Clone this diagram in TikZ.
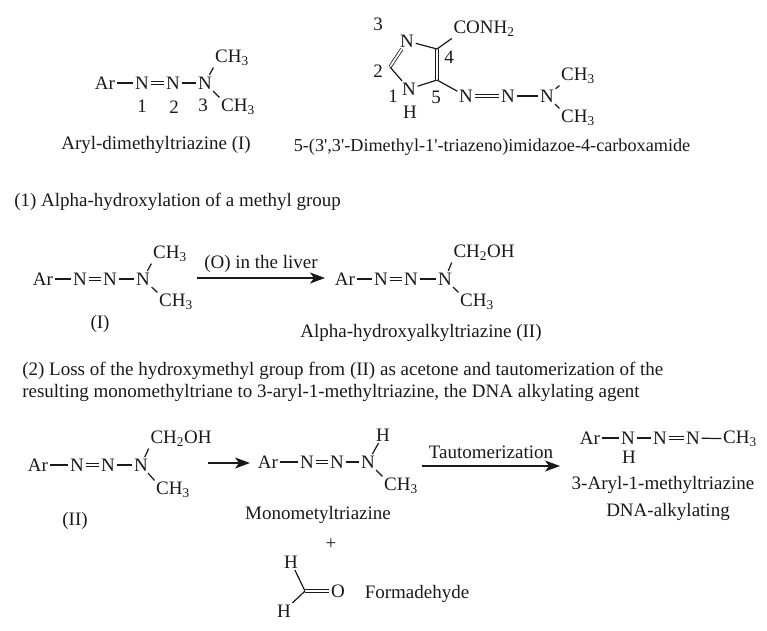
\documentclass[tikz,border=0pt]{standalone}
\usepackage{fontspec}
\setmainfont{Liberation Serif}
\usetikzlibrary{arrows,arrows.meta,positioning,calc}

\begin{document}
\begin{tikzpicture}[x=1pt,y=-1pt,
semithick,
every node/.style={font=\fontsize{19}{22}\selectfont,text=black!90}]
\tikzstyle{atom}=[inner sep=1.5pt]
\tikzstyle{bond}=[-,line width=1.2pt,black!90]
\tikzstyle{dbond}=[-,line width=0.8pt,black!90,double,double distance=1.8pt]
\tikzstyle{caption}=[inner sep=0pt]
\tikzstyle{para}=[inner sep=0pt,anchor=west]
\tikzstyle{reaction}=[-{Stealth[length=15pt,width=11pt,inset=4pt]},line width=1.3pt,black!90]
\useasboundingbox (0,0) rectangle (767,630);

%aryl compound
\node[atom] (ArA) at (105,83) {Ar};
\node[atom] (NA1) at (142,83) {N};
\node[atom] (NA2) at (173,83) {N};
\node[atom] (NA3) at (205,83) {N};
\node[atom] (MeA1) at (232,58) {CH\textsubscript{3}};
\node[atom] (MeA2) at (238,107) {CH\textsubscript{3}};
\node[atom] (numA1) at (142,106) {1};
\node[atom] (numA2) at (174,107) {2};
\node[atom] (numA3) at (203,105) {3};
\draw[bond] (ArA) -- (NA1);
\draw[dbond] (NA1) -- (NA2);
\draw[bond] (NA2) -- (NA3);
\draw[bond] (NA3) -- (MeA1.south west);
\draw[bond] (NA3) -- (MeA2.north west);
\node[caption] (capA) at (156,145) {Aryl-dimethyltriazine (I)};

%imidazole
\node[atom] (numB3) at (378,24) {3};
\node[atom] (NB3) at (407,41) {N};
\coordinate (CB4) at (437,49);
\coordinate (CB5) at (437,80);
\coordinate (CB2) at (390,67);
\node[atom] (NB1) at (409,89) {N};
\node[atom] (HB1) at (410,112) {H};
\node[atom] (numB2) at (378,71) {2};
\node[atom] (numB1) at (393,96) {1};
\node[atom] (numB4) at (449,57) {4};
\node[atom] (numB5) at (436,97) {5};
\node[atom] (Amide) at (484,29) {CONH\textsubscript{2}};
\node[atom] (NB6) at (466,96) {N};
\node[atom] (NB7) at (508,96) {N};
\node[atom] (NB8) at (547,96) {N};
\node[atom] (MeB1) at (578,76) {CH\textsubscript{3}};
\node[atom] (MeB2) at (578,118) {CH\textsubscript{3}};
\draw[dbond] (NB3) -- (CB2);
\draw[bond] (CB2) -- (NB1);
\draw[bond] (NB1) -- (CB5);
\draw[dbond] (CB5) -- (CB4);
\draw[bond] (CB4) -- (NB3);
\draw[bond] (CB4) -- (Amide.south west);
\draw[bond] (CB5) -- (NB6);
\draw[dbond] (NB6) -- (NB7);
\draw[bond] (NB7) -- (NB8);
\draw[bond] (NB8) -- (MeB1.south west);
\draw[bond] (NB8) -- (MeB2.north west);
\node[caption,font=\fontsize{18.2}{22}\selectfont] (capB) at (492,147) {5-(3\textquotesingle,3\textquotesingle-Dimethyl-1\textquotesingle-triazeno)imidazoe-4-carboxamide};

\node[para] (stepC) at (14,202) {(1) Alpha-hydroxylation of a methyl group};

%first reaction
\node[atom] (ArC) at (43,279) {Ar};
\node[atom] (NC1) at (80,279) {N};
\node[atom] (NC2) at (110,279) {N};
\node[atom] (NC3) at (143,279) {N};
\node[atom] (MeC1) at (170,254) {CH\textsubscript{3}};
\node[atom] (MeC2) at (176,302) {CH\textsubscript{3}};
\node[atom] (refC) at (100,324) {(I)};
\draw[bond] (ArC) -- (NC1);
\draw[dbond] (NC1) -- (NC2);
\draw[bond] (NC2) -- (NC3);
\draw[bond] (NC3) -- (MeC1.south west);
\draw[bond] (NC3) -- (MeC2.north west);

\node[atom] (ArD) at (345,279) {Ar};
\node[atom] (ND1) at (381,279) {N};
\node[atom] (ND2) at (411,279) {N};
\node[atom] (ND3) at (445,279) {N};
\node[atom] (HydD) at (484,253) {CH\textsubscript{2}OH};
\node[atom] (MeD) at (477,302) {CH\textsubscript{3}};
\draw[bond] (ArD) -- (ND1);
\draw[dbond] (ND1) -- (ND2);
\draw[bond] (ND2) -- (ND3);
\draw[bond] (ND3) -- (HydD.south west);
\draw[bond] (ND3) -- (MeD.north west);
\node[caption] (capD) at (421,333) {Alpha-hydroxyalkyltriazine (II)};

\coordinate (fromC) at (197,278);
\coordinate (toC) at (325,278);
\draw[reaction] (fromC) -- node[above=4pt,inner sep=1pt] {(O) in the liver} (toC);

\node[para] (stepE1) at (22,371) {(2) Loss of the hydroxymethyl group from (II) as acetone and tautomerization of the};
\node[para] (stepE2) at (22,393) {resulting monomethyltriane to 3-aryl-1-methyltriazine, the DNA alkylating agent};

%second reaction
\node[atom] (ArF) at (38,465) {Ar};
\node[atom] (NF1) at (77,465) {N};
\node[atom] (NF2) at (108,465) {N};
\node[atom] (NF3) at (141,465) {N};
\node[atom] (HydF) at (181,439) {CH\textsubscript{2}OH};
\node[atom] (MeF) at (173,490) {CH\textsubscript{3}};
\node[atom] (refF) at (75,521) {(II)};
\draw[bond] (ArF) -- (NF1);
\draw[dbond] (NF1) -- (NF2);
\draw[bond] (NF2) -- (NF3);
\draw[bond] (NF3) -- (HydF.south west);
\draw[bond] (NF3) -- (MeF.north west);

\node[atom] (ArG) at (268,462) {Ar};
\node[atom] (NG1) at (307,462) {N};
\node[atom] (NG2) at (337,462) {N};
\node[atom] (NG3) at (368,462) {N};
\node[atom] (HG) at (383,435) {H};
\node[atom] (MeG) at (401,486) {CH\textsubscript{3}};
\draw[bond] (ArG) -- (NG1);
\draw[dbond] (NG1) -- (NG2);
\draw[bond] (NG2) -- (NG3);
\draw[bond] (NG3) -- (HG);
\draw[bond] (NG3) -- (MeG.north west);
\node[caption] (capG) at (318,515) {Monometyltriazine};

\coordinate (fromF) at (208,463);
\coordinate (toF) at (250,463);
\draw[reaction] (fromF) -- (toF);

\node[atom] (ArH) at (590,438) {Ar};
\node[atom] (NH1) at (628,438) {N};
\node[atom] (NH2) at (660,438) {N};
\node[atom] (NH3) at (693,438) {N};
\node[atom] (MeH) at (740,439) {CH\textsubscript{3}};
\node[atom] (HH) at (629,457) {H};
\draw[bond] (ArH) -- (NH1);
\draw[bond] (NH1) -- (NH2);
\draw[dbond] (NH2) -- (NH3);
\draw[bond] (NH3) -- (MeH);
\node[caption] (capH1) at (663,485) {3-Aryl-1-methyltriazine};
\node[caption] (capH2) at (668,512) {DNA-alkylating};

\coordinate (fromG) at (422,466);
\coordinate (toG) at (560,466);
\draw[reaction] (fromG) -- node[above=6pt,inner sep=1pt] {Tautomerization} (toG);

%formaldehyde
\node[atom] (plus) at (331,544) {+};
\node[atom] (HJ1) at (291,562) {H};
\coordinate (CJ) at (305,591);
\node[atom] (OJ) at (338,591) {O};
\node[atom] (HJ2) at (284,611) {H};
\draw[bond] (HJ1) -- (CJ);
\draw[dbond] (CJ) -- (OJ);
\draw[bond] (HJ2) -- (CJ);
\node[caption] (capJ) at (417,594) {Formadehyde};

\end{tikzpicture}
\end{document}
